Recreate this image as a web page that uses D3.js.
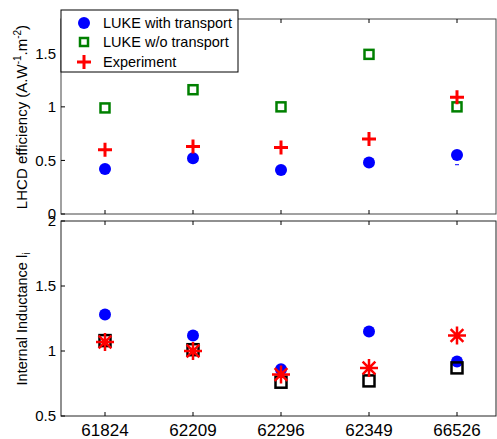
<!DOCTYPE html>
<html>
<head>
<meta charset="utf-8">
<script src="https://cdn.jsdelivr.net/npm/d3@7"></script>
<style>
  body { margin: 0; background: #fff; }
  svg { font-family: "Liberation Sans", Arial, sans-serif; }
</style>
</head>
<body>
<div id="chart"></div>
<script>
// Shot numbers on the x axis
var shots = ["61824", "62209", "62296", "62349", "66526"];

// Top panel: LHCD efficiency
var effWithTransport = [0.42, 0.52, 0.41, 0.48, 0.55];
var effNoTransport = [0.99, 1.16, 1.00, 1.49, 1.00];
var effExperiment = [0.60, 0.63, 0.62, 0.70, 1.09];

// Bottom panel: internal inductance
var liWithTransport = [1.28, 1.12, 0.86, 1.15, 0.92];
var liNoTransport = [1.08, 1.01, 0.76, 0.77, 0.87];
var liExperiment = [1.07, 1.00, 0.82, 0.87, 1.12];

var topTicks = [0, 0.5, 1, 1.5];
var bottomTicks = [0.5, 1, 1.5, 2];

var svgWidth = 497;
var svgHeight = 439;

var left = 61, right = 496;

var svg = d3.select("#chart").append("svg")
    .attr("width", svgWidth).attr("height", svgHeight);

var x = d3.scaleLinear().domain([0.5, 5.5]).range([left, left + 440]);

var yTop = d3.scaleLinear().domain([0, 1.82]).range([214, 19]);
var yBot = d3.scaleLinear().domain([0.5, 2]).range([416, 221]);

// draw frame + ticks for a panel
function drawPanel(y, ticks, y0, y1, color) {
    var g = svg.append("g");
    g.append("rect")
        .attr("x", left).attr("y", y1)
        .attr("width", right - left).attr("height", y0 - y1)
        .attr("fill", "none").attr("stroke", color).attr("stroke-width", 1);

    // x ticks top and bottom, pointing in
    shots.forEach(function(s, i) {
        g.append("line").attr("x1", x(i + 1)).attr("x2", x(i + 1))
            .attr("y1", y0).attr("y2", y0 - 4).attr("stroke", "#000");
        g.append("line").attr("x1", x(i + 1)).attr("x2", x(i + 1))
            .attr("y1", y1).attr("y2", y1 + 4).attr("stroke", "#000");
    });

    ticks.forEach(function(t) {
        g.append("line").attr("x1", left).attr("x2", left + 4)
            .attr("y1", y(t)).attr("y2", y(t)).attr("stroke", "#000");
        g.append("text").attr("x", left - 5).attr("y", y(t))
            .attr("dy", "0.35em").attr("text-anchor", "end")
            .attr("font-size", 15).text(t);
    });
    return g;
}

drawPanel(yTop, topTicks, 214, 19, "#444");
drawPanel(yBot, bottomTicks, 416, 221, "#222");

// x tick labels under the bottom panel
svg.append("g").selectAll("text").data(shots).enter().append("text")
    .attr("x", (d, i) => x(i + 1)).attr("y", 436)
    .attr("text-anchor", "middle").attr("font-size", 17)
    .text(d => d);

// axis titles
var t1 = svg.append("text")
    .attr("transform", "translate(27,117) rotate(-90)")
    .attr("text-anchor", "middle").attr("font-size", 15);
t1.append("tspan").text("LHCD efficiency (A.W");
t1.append("tspan").attr("dy", -6).attr("font-size", 10).text("-1");
t1.append("tspan").attr("dy", 6).text(".m");
t1.append("tspan").attr("dy", -6).attr("font-size", 10).text("-2");
t1.append("tspan").attr("dy", 6).text(")");

var t2 = svg.append("text")
    .attr("transform", "translate(27,319) rotate(-90)")
    .attr("text-anchor", "middle").attr("font-size", 14.5);
t2.append("tspan").text("Internal Inductance l");
t2.append("tspan").attr("dy", 3).attr("font-size", 10).text("i");

// marker helpers
function circles(g, data, y, r) {
    g.selectAll(null).data(data).enter().append("circle")
        .attr("cx", (d, i) => x(i + 1)).attr("cy", d => y(d))
        .attr("r", r).attr("fill", "#0000ff");
}
function squares(g, data, y, s, color) {
    g.selectAll(null).data(data).enter().append("rect")
        .attr("x", (d, i) => x(i + 1) - s / 2).attr("y", d => y(d) - s / 2)
        .attr("width", s).attr("height", s)
        .attr("fill", "none").attr("stroke", color).attr("stroke-width", 2.5);
}
function pluses(g, data, y, s) {
    g.selectAll(null).data(data).enter().append("path")
        .attr("transform", (d, i) => `translate(${x(i + 1)},${y(d)})`)
        .attr("d", `M${-s},0H${s}M0,${-s}V${s}`)
        .attr("stroke", "#ff0000").attr("stroke-width", 3).attr("fill", "none");
}
function stars(g, data, y, s) {
    var a = s * 0.707;
    g.selectAll(null).data(data).enter().append("path")
        .attr("transform", (d, i) => `translate(${x(i + 1)},${y(d)})`)
        .attr("d", `M${-s},0H${s}M0,${-s}V${s}M${-a},${-a}L${a},${a}M${-a},${a}L${a},${-a}`)
        .attr("stroke", "#ff0000").attr("stroke-width", 2.5).attr("fill", "none");
}

var topG = svg.append("g");
circles(topG, effWithTransport, yTop, 6);
squares(topG, effNoTransport, yTop, 9, "#008000");
pluses(topG, effExperiment, yTop, 7);
// small blue dash under last point
topG.append("line")
    .attr("x1", x(5) - 2).attr("x2", x(5) + 2)
    .attr("y1", yTop(0.46)).attr("y2", yTop(0.46))
    .attr("stroke", "#0000ff").attr("stroke-width", 1);

var botG = svg.append("g");
circles(botG, liWithTransport, yBot, 6);
squares(botG, liNoTransport, yBot, 11, "#000");
stars(botG, liExperiment, yBot, 9);

// legend
var lg = svg.append("g");
lg.append("rect").attr("x", 61).attr("y", 10).attr("width", 177).attr("height", 62)
    .attr("fill", "#fff").attr("stroke", "#000").attr("stroke-width", 1);
var items = ["LUKE with transport", "LUKE w/o transport", "Experiment"];
var ly = [23, 42, 62];
lg.append("circle").attr("cx", 84).attr("cy", ly[0]).attr("r", 6).attr("fill", "#0000ff");
lg.append("rect").attr("x", 80).attr("y", ly[1] - 4).attr("width", 8).attr("height", 8)
    .attr("fill", "none").attr("stroke", "#008000").attr("stroke-width", 2.5);
lg.append("path").attr("d", `M77,${ly[2]}H91M84,${ly[2] - 7}V${ly[2] + 7}`)
    .attr("stroke", "#ff0000").attr("stroke-width", 3);
items.forEach(function(t, i) {
    lg.append("text").attr("x", 103).attr("y", ly[i]).attr("dy", "0.35em")
        .attr("font-size", 14.5).text(t);
});
</script>
</body>
</html>
